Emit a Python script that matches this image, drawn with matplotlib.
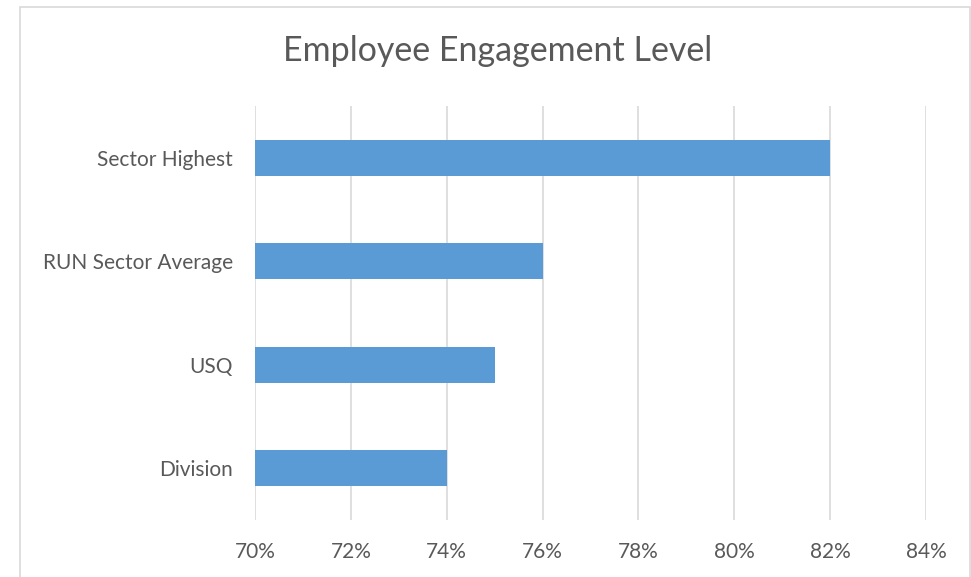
import matplotlib.pyplot as plt
from matplotlib.patches import Rectangle
from matplotlib.ticker import FuncFormatter

categories = ["Division", "USQ", "RUN Sector Average", "Sector Highest"]
values = [74, 75, 76, 82]
base = 70
ticks = [70, 72, 74, 76, 78, 80, 82, 84]

plt.rcParams["font.family"] = ["Lato", "DejaVu Sans"]

fig = plt.figure(figsize=(9.71, 5.77), dpi=100)
ax = fig.add_axes([0.2626, 0.0988, 0.6911, 0.7175])

# chart frame
fig.patches.append(Rectangle((20 / 971, -0.1), 950 / 971, 1.1 - 7 / 577,
                             transform=fig.transFigure, fill=False,
                             edgecolor="#d9d9d9", linewidth=1.2))

y = range(len(categories))
ax.barh(y, [v - base for v in values], left=base, height=0.35, color="#5B9BD5")

ax.set_xlim(70, 84)
ax.set_ylim(-0.5, len(categories) - 0.5)
ax.set_xticks(ticks)
ax.xaxis.set_major_formatter(FuncFormatter(lambda v, p: f"{v:.0f}%"))
ax.set_yticks(list(y))
ax.set_yticklabels(categories)

ax.grid(axis="x", color="#d9d9d9", linewidth=1.2)
ax.set_axisbelow(True)
for s in ax.spines.values():
    s.set_visible(False)
ax.tick_params(axis="both", length=0, labelsize=15, colors="#595959")
ax.tick_params(axis="x", pad=16)
ax.tick_params(axis="y", pad=16)

fig.text(0.513, 0.912, "Employee Engagement Level", ha="center", va="center",
         fontsize=24.5, color="#595959")

fig.savefig("out.png", dpi=100)
